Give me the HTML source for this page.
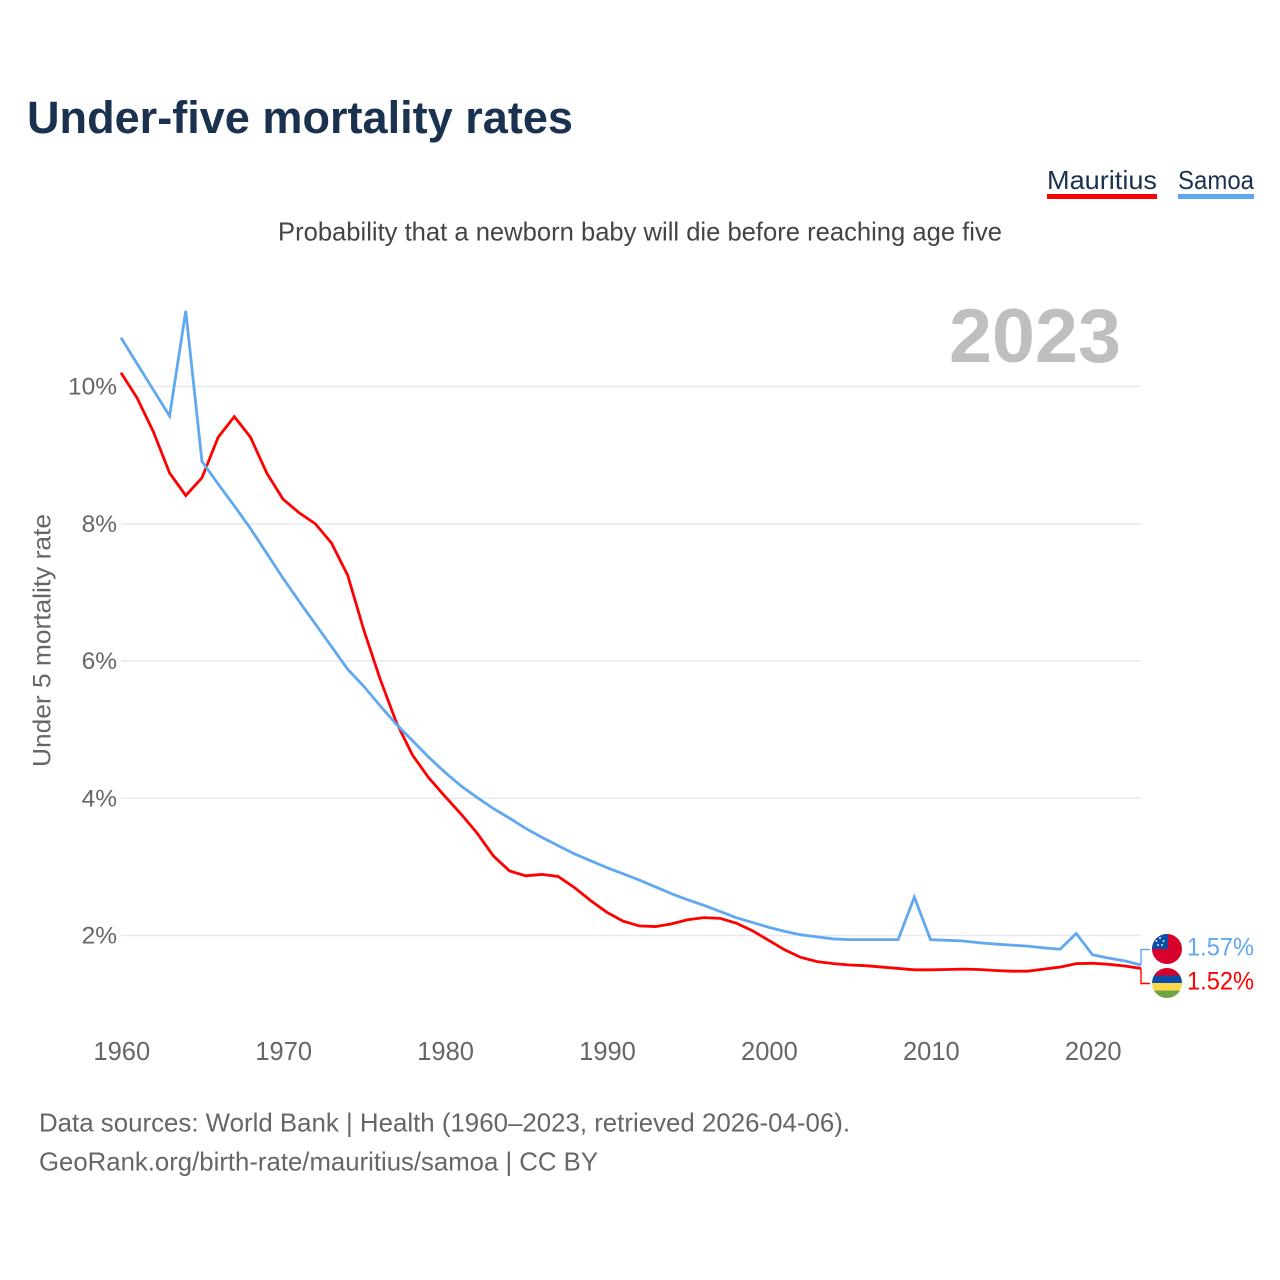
<!DOCTYPE html>
<html>
<head>
<meta charset="utf-8">
<title>Under-five mortality rates</title>
<style>
html,body{margin:0;padding:0;background:#fff;}
svg{display:block;font-family:"Liberation Sans",Arial,sans-serif;}
</style>
</head>
<body>
<svg id="chart" width="1280" height="1280" viewBox="0 0 1280 1280" xmlns="http://www.w3.org/2000/svg">
<rect width="1280" height="1280" fill="#fff"/>
<text x="27" y="133" font-size="45" font-weight="700" fill="#1a3150" textLength="546" lengthAdjust="spacingAndGlyphs">Under-five mortality rates</text>
<g>
<text x="1047" y="189" font-size="26" fill="#1a3150" textLength="110" lengthAdjust="spacingAndGlyphs">Mauritius</text>
<rect x="1047" y="194" width="110" height="5" fill="#ff0000"/>
</g>
<g>
<text x="1178" y="189" font-size="26" fill="#1a3150" textLength="76" lengthAdjust="spacingAndGlyphs">Samoa</text>
<rect x="1178" y="194" width="76" height="5" fill="#60a8f0"/>
</g>
<text x="278" y="240.500" font-size="26" fill="#444" textLength="724" lengthAdjust="spacingAndGlyphs">Probability that a newborn baby will die before reaching age five</text>
<text x="949" y="362" font-size="76" font-weight="700" fill="#bfbfbf" textLength="172" lengthAdjust="spacingAndGlyphs">2023</text>
<text transform="translate(50.500,767) rotate(-90)" x="0" y="0" font-size="25" fill="#666" textLength="253" lengthAdjust="spacingAndGlyphs">Under 5 mortality rate</text>
<g id="grid"></g>
<g id="yticks"></g>
<g id="xticks"></g>
<g id="series"></g>
<defs>
<clipPath id="clip-samoa"><circle cx="1167" cy="949" r="15"/></clipPath>
<clipPath id="clip-mauritius"><circle cx="1167" cy="983" r="15"/></clipPath>
</defs>
<g id="connectors"></g>
<g clip-path="url(#clip-samoa)">
<rect x="1152" y="934" width="30" height="30" fill="#d8002c"/>
<rect x="1152" y="934" width="16" height="15" fill="#0a4ea8"/>
<circle cx="1160" cy="938" r="1" fill="#dfe8f5"/>
<circle cx="1156.500" cy="941" r="1" fill="#dfe8f5"/>
<circle cx="1163.500" cy="941" r="1" fill="#dfe8f5"/>
<circle cx="1158" cy="945" r="1" fill="#dfe8f5"/>
<circle cx="1162" cy="945" r="1" fill="#dfe8f5"/>
</g>
<g clip-path="url(#clip-mauritius)">
<rect x="1152" y="968" width="30" height="7.500" fill="#d8002c"/>
<rect x="1152" y="975.500" width="30" height="7.500" fill="#0a4ea8"/>
<rect x="1152" y="983" width="30" height="7.500" fill="#ffd84a"/>
<rect x="1152" y="990.500" width="30" height="7.500" fill="#6fa544"/>
</g>
<text id="label-samoa" x="1187" y="955.500" font-size="25" fill="#60a8f0" textLength="67" lengthAdjust="spacingAndGlyphs"></text>
<text id="label-mauritius" x="1187" y="989.500" font-size="25" fill="#ff0000" textLength="67" lengthAdjust="spacingAndGlyphs"></text>
<text x="39" y="1131.500" font-size="26" fill="#666" textLength="811" lengthAdjust="spacingAndGlyphs">Data sources: World Bank | Health (1960–2023, retrieved 2026-04-06).</text>
<text x="39" y="1170.500" font-size="26" fill="#666" textLength="559" lengthAdjust="spacingAndGlyphs">GeoRank.org/birth-rate/mauritius/samoa | CC BY</text>
</svg>
<script>
var years = [1960,1961,1962,1963,1964,1965,1966,1967,1968,1969,1970,1971,1972,1973,1974,1975,1976,1977,1978,1979,1980,1981,1982,1983,1984,1985,1986,1987,1988,1989,1990,1991,1992,1993,1994,1995,1996,1997,1998,1999,2000,2001,2002,2003,2004,2005,2006,2007,2008,2009,2010,2011,2012,2013,2014,2015,2016,2017,2018,2019,2020,2021,2022,2023];
var mauritius = [10.2,9.83,9.34,8.74,8.41,8.67,9.26,9.56,9.26,8.74,8.36,8.16,8.0,7.72,7.25,6.45,5.74,5.11,4.63,4.3,4.03,3.77,3.49,3.16,2.94,2.87,2.89,2.86,2.7,2.51,2.34,2.21,2.14,2.13,2.17,2.23,2.26,2.25,2.18,2.07,1.93,1.79,1.68,1.62,1.59,1.57,1.56,1.54,1.52,1.5,1.5,1.505,1.51,1.505,1.49,1.48,1.48,1.51,1.54,1.59,1.595,1.58,1.555,1.52];
var samoa = [10.71,10.33,9.95,9.57,11.1,8.91,8.58,8.26,7.93,7.57,7.21,6.87,6.54,6.21,5.88,5.63,5.35,5.08,4.84,4.6,4.38,4.18,4.01,3.85,3.71,3.56,3.43,3.31,3.19,3.09,2.99,2.9,2.81,2.71,2.61,2.52,2.44,2.35,2.26,2.19,2.12,2.06,2.01,1.98,1.95,1.94,1.94,1.94,1.94,2.56,1.94,1.93,1.92,1.895,1.875,1.86,1.845,1.82,1.8,2.03,1.72,1.67,1.63,1.57];
var yTickValues = [2,4,6,8,10];
var xTickValues = [1960,1970,1980,1990,2000,2010,2020];
var endLabelSamoa = "1.57%";
var endLabelMauritius = "1.52%";

var NS = "http://www.w3.org/2000/svg";
function xScale(year){ return 121 + (year - 1960) * (1020 / 63); }
function yScale(v){ return 935.5 - (v - 2) * 68.625; }
function make(tag, attrs, parent){
  var el = document.createElementNS(NS, tag);
  for (var k in attrs) { el.setAttribute(k, attrs[k]); }
  parent.appendChild(el);
  return el;
}
var grid = document.getElementById("grid");
var yticks = document.getElementById("yticks");
var xticks = document.getElementById("xticks");
var seriesG = document.getElementById("series");
var connectors = document.getElementById("connectors");

yTickValues.forEach(function(v){
  var line = make("line", {x1:121, x2:1141, y1:yScale(v), y2:yScale(v), stroke:"#e9e9e9", "stroke-width":1.4}, grid);
  
  
  var t = make("text", {x:117, y:yScale(v)+8, "font-size":24.5, fill:"#666", "text-anchor":"end"}, yticks);
  
  
  t.textContent = v + "%";
});
xTickValues.forEach(function(y){
  var t = make("text", {x:xScale(y)+0.8, y:1060, "font-size":25.5, fill:"#666", "text-anchor":"middle"}, xticks);
  
  
  t.textContent = y;
});
function linePoints(values){
  return values.map(function(v, i){
    return xScale(years[i]).toFixed(2) + "," + yScale(v).toFixed(2);
  }).join(" ");
}
var lineM = make("polyline", {points:linePoints(mauritius), fill:"none", stroke:"#ff0000", "stroke-width":2.8, "stroke-linejoin":"miter"}, seriesG);


var lineS = make("polyline", {points:linePoints(samoa), fill:"none", stroke:"#60a8f0", "stroke-width":2.8, "stroke-linejoin":"miter"}, seriesG);



var lastX = xScale(years[years.length-1]);
var connS = make("polyline", {points:lastX+","+yScale(samoa[samoa.length-1])+" "+lastX+",949.500 1150,949.500", fill:"none", stroke:"#60a8f0", "stroke-width":1.4}, connectors);


var connM = make("polyline", {points:lastX+","+yScale(mauritius[mauritius.length-1])+" "+lastX+",983.500 1150,983.500", fill:"none", stroke:"#ff0000", "stroke-width":1.4}, connectors);



document.getElementById("label-samoa").textContent = endLabelSamoa;
document.getElementById("label-mauritius").textContent = endLabelMauritius;
</script>
</body>
</html>
